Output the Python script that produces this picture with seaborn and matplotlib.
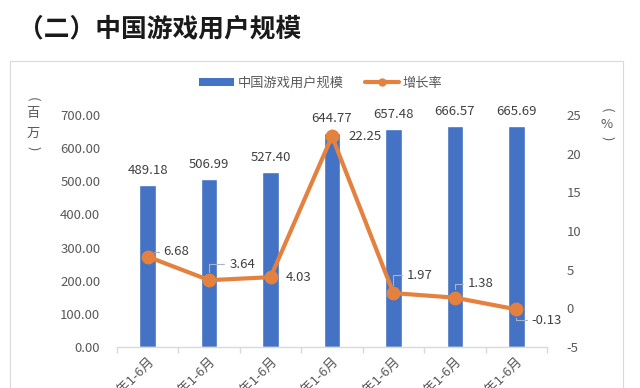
import matplotlib
matplotlib.use("Agg")
import matplotlib.pyplot as plt
from matplotlib.patches import Rectangle, Patch
from matplotlib.lines import Line2D
import numpy as np
import pandas as pd
import seaborn as sns

# ---- data ----
periods = ["2016年1-6月", "2017年1-6月", "2018年1-6月", "2019年1-6月",
           "2020年1-6月", "2021年1-6月", "2022年1-6月"]
users = [489.18, 506.99, 527.40, 644.77, 657.48, 666.57, 665.69]
growth = [6.68, 3.64, 4.03, 22.25, 1.97, 1.38, -0.13]
left_ticks = [0, 100, 200, 300, 400, 500, 600, 700]
right_ticks = [-5, 0, 5, 10, 15, 20, 25]
title = "（二）中国游戏用户规模"
bar_name = "中国游戏用户规模"
line_name = "增长率"
left_unit = ["百", "万"]
right_unit = ["%"]

sns.set_theme(style="white")
plt.rcParams["font.family"] = ["Noto Sans CJK SC", "DejaVu Sans"]

BLUE = "#4472C4"
ORANGE = "#E4813F"
TXT = "#595959"
LBL = "#404040"

fig = plt.figure(figsize=(6.4, 3.88), dpi=100)
W, H = 640, 388

# outer chart frame
fig.patches.append(Rectangle((10 / W, -0.05), 613 / W, 1 - 61 / H + 0.05,
                             transform=fig.transFigure, fill=False,
                             edgecolor="#D9D9D9", linewidth=0.8))

fig.text(18 / W, 1 - 29 / H, title, fontsize=18.5, fontweight="bold",
         color="#1a1a1a", ha="left", va="center")

ax = fig.add_axes([117 / W, 1 - 347 / H, 430 / W, 232 / H])
df = pd.DataFrame({"period": periods, "users": users, "growth": growth})
sns.barplot(data=df, x="period", y="users", color=BLUE, width=0.27,
            saturation=1, ax=ax)
ax.set_ylim(0, 700)
ax.set_xlim(-0.5, len(periods) - 0.5)
ax.set_yticks(left_ticks)
ax.set_yticklabels([f"{v:.2f}" for v in left_ticks])
ax.set_xlabel("")
ax.set_ylabel("")
for s in ["top", "left", "right"]:
    ax.spines[s].set_visible(False)
ax.spines["bottom"].set_color("#D9D9D9")
ax.spines["bottom"].set_linewidth(1.0)
ax.tick_params(axis="y", length=0, pad=12, labelsize=9.5, labelcolor=TXT)
ax.tick_params(axis="x", which="major", length=0, pad=6, labelsize=9.5,
               labelcolor=TXT)
ax.set_xticks(np.arange(len(periods)))
ax.set_xticklabels(periods, rotation=45, ha="right", rotation_mode="anchor")
ax.set_xticks(np.arange(-0.5, len(periods), 1.0), minor=True)
ax.tick_params(axis="x", which="minor", length=4, color="#D9D9D9", width=1,
               bottom=True)

for i, v in enumerate(users):
    ax.annotate(f"{v:.2f}", (i, v), xytext=(0, 6), textcoords="offset points",
                ha="center", va="bottom", fontsize=9.5, color=LBL)

ax2 = ax.twinx()
sns.lineplot(x=np.arange(len(periods)), y=growth, ax=ax2, color=ORANGE,
             linewidth=3, marker="o", markersize=10, markeredgewidth=0)
ax2.set_ylim(-5, 25)
ax2.set_yticks(right_ticks)
ax2.set_yticklabels([str(v) for v in right_ticks])
for s in ["top", "left", "right", "bottom"]:
    ax2.spines[s].set_visible(False)
ax2.tick_params(axis="y", length=0, pad=14, labelsize=9.5, labelcolor=TXT)
ax2.set_ylabel("")

# growth labels: offsets in px (dx, dy up), whether a leader line is drawn
offsets = [(16, 5, True), (20, 16, True), (15, 0, False), (16, 0, False),
           (13, 18, True), (13, 14, True), (15, -11, True)]
for i, (v, (dx, dy, lead)) in enumerate(zip(growth, offsets)):
    kw = {}
    if lead:
        kw["arrowprops"] = dict(arrowstyle="-", color="#A9B4C8", lw=0.8,
                                shrinkA=1, shrinkB=6, relpos=(0, 0.5),
                                connectionstyle="angle,angleA=0,angleB=90,rad=0")
    ax2.annotate(f"{v:.2f}", (i, v), xytext=(dx * 0.72, dy * 0.72),
                 textcoords="offset points", ha="left", va="center",
                 fontsize=9.5, color=LBL, **kw)


def vertical_unit(x, y_open, chars, y_chars, y_close):
    fig.text(x / W, 1 - y_open / H, "(", rotation=-90, ha="center",
             va="center", fontsize=9.5, color=TXT)
    for c, yc in zip(chars, y_chars):
        fig.text(x / W, 1 - yc / H, c, ha="center", va="center",
                 fontsize=9.5, color=TXT)
    fig.text(x / W, 1 - y_close / H, ")", rotation=-90, ha="center",
             va="center", fontsize=9.5, color=TXT)


vertical_unit(33, 99, left_unit, [114, 133], 148)
vertical_unit(607, 110, right_unit, [124], 138)

handles = [Patch(facecolor=BLUE, edgecolor="none"),
           Line2D([0], [0], color=ORANGE, lw=3, marker="o", markersize=6,
                  markeredgewidth=0)]
fig.legend(handles, [bar_name, line_name], loc="center",
           bbox_to_anchor=(321 / W, 1 - 83 / H), ncol=2, frameon=False,
           fontsize=9.5, labelcolor=TXT, handlelength=2.6, handleheight=0.5,
           columnspacing=1.6, handletextpad=0.3)

fig.savefig("out.png", dpi=100)
